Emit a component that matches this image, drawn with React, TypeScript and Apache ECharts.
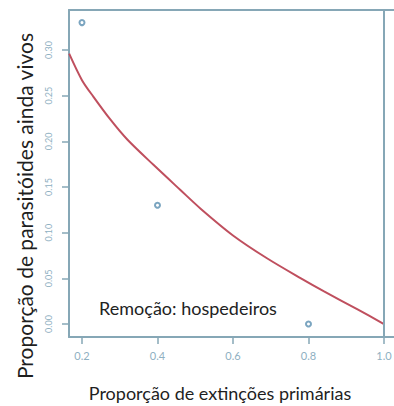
import React, { useEffect, useRef } from "react";
import * as echarts from "echarts";

const pointX = [0.2, 0.4, 0.8];
const pointY = [0.33, 0.13, 0.0];

const curveX = [0.166, 0.2, 0.23, 0.275, 0.32, 0.39, 0.46, 0.515, 0.6, 0.69, 0.78, 0.84, 0.93, 1.0];
const curveY = [0.296, 0.267, 0.249, 0.224, 0.202, 0.174, 0.147, 0.126, 0.097, 0.072, 0.05, 0.036, 0.016, 0.0];

const xTicks = [0.2, 0.4, 0.6, 0.8, 1.0];
const yTicks = [0.0, 0.05, 0.1, 0.15, 0.2, 0.25, 0.3];

const yTitle = "Proporção de parasitóides ainda vivos";
const xTitle = "Proporção de extinções primárias";
const note = "Remoção: hospedeiros";

const BOX = "#86a7b6";
const TICKLABEL = "#8fb0c2";
const CURVE = "#bf4f5e";
const FONT = "Lato, 'Open Sans', sans-serif";

export default function App() {
  const ref = useRef<HTMLDivElement>(null);
  useEffect(() => {
    if (!ref.current) return;
    const chart = echarts.init(ref.current, undefined, { renderer: "svg" });
    const axisLineStyle = { color: BOX, width: 2 };
    chart.setOption({
      animation: false,
      backgroundColor: "#ffffff",
      grid: { left: 69, top: 10, right: 0, bottom: 69, containLabel: false, outerBoundsMode: "none" },
      xAxis: [
        {
          type: "value",
          position: "bottom",
          min: 0.1656,
          max: 1.0265,
          splitLine: { show: false },
          axisLine: { show: true, onZero: false, lineStyle: axisLineStyle },
          axisTick: { show: true, length: 7, customValues: xTicks, lineStyle: { color: BOX, width: 1.5 } },
          axisLabel: {
            customValues: xTicks,
            formatter: (v: number) => v.toFixed(1),
            color: TICKLABEL,
            fontSize: 11,
            fontFamily: FONT,
            margin: 13,
          },
        },
        {
          type: "value",
          position: "top",
          min: 0.1656,
          max: 1.0265,
          splitLine: { show: false },
          axisLine: { show: true, onZero: false, lineStyle: axisLineStyle },
          axisTick: { show: false },
          axisLabel: { show: false },
        },
      ],
      yAxis: {
        type: "value",
        min: -0.0142,
        max: 0.3438,
        splitLine: { show: false },
        axisLine: { show: true, onZero: false, lineStyle: axisLineStyle },
        axisTick: { show: true, length: 7, customValues: yTicks, lineStyle: { color: BOX, width: 1.5 } },
        axisLabel: {
          customValues: yTicks,
          formatter: (v: number) => v.toFixed(2),
          color: TICKLABEL,
          fontSize: 9,
          fontFamily: FONT,
          rotate: 90,
          margin: 16,
        },
      },
      graphic: [
        {
          type: "text",
          x: 24,
          y: 206,
          rotation: Math.PI / 2,
          style: {
            text: yTitle,
            fill: "#1f1f1f",
            font: `21px ${FONT}`,
            align: "center",
            verticalAlign: "middle",
          },
        },
        {
          type: "text",
          x: 220,
          y: 393,
          style: {
            text: xTitle,
            fill: "#1f1f1f",
            font: `18px ${FONT}`,
            align: "center",
            verticalAlign: "middle",
          },
        },
        {
          type: "text",
          x: 188,
          y: 308,
          z: 10,
          style: {
            text: note,
            fill: "#222222",
            font: `18px ${FONT}`,
            align: "center",
            verticalAlign: "middle",
          },
        },
      ],
      series: [
        {
          type: "line",
          xAxisIndex: 0,
          data: curveX.map((x, i) => [x, curveY[i]]),
          smooth: 0.3,
          symbol: "none",
          lineStyle: { color: CURVE, width: 2 },
          markLine: {
            silent: true,
            symbol: "none",
            label: { show: false },
            lineStyle: { color: BOX, width: 2, type: "solid" },
            data: [{ xAxis: 1.0 }],
          },
          z: 3,
        },
        {
          type: "scatter",
          xAxisIndex: 0,
          data: pointX.map((x, i) => [x, pointY[i]]),
          symbol: "emptyCircle",
          symbolSize: 5,
          itemStyle: { color: "#5a8fb0", borderColor: "#5a8fb0", borderWidth: 1 },
          z: 4,
        },
      ],
    });
    return () => chart.dispose();
  }, []);
  return <div ref={ref} style={{ position: "fixed", left: 0, top: 0, width: 394, height: 406 }} />;
}
